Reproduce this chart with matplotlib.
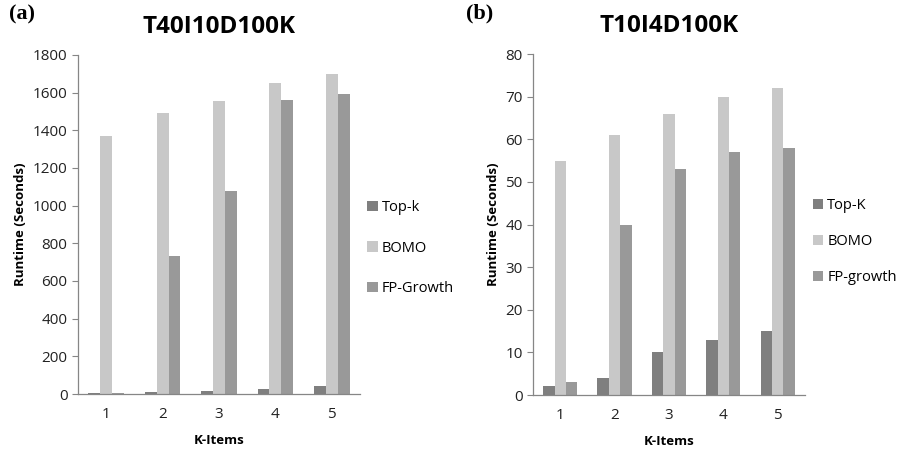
import matplotlib.pyplot as plt
import numpy as np

plt.rcParams['font.family'] = ['Open Sans', 'DejaVu Sans']

# data
k_items = ['1', '2', '3', '4', '5']

topk_a = [5, 10, 18, 25, 45]
bomo_a = [1370, 1490, 1555, 1650, 1700]
fp_a = [5, 730, 1075, 1560, 1590]

topk_b = [2, 4, 10, 13, 15]
bomo_b = [55, 61, 66, 70, 72]
fp_b = [3, 40, 53, 57, 58]

c_topk = '#7f7f7f'
c_bomo = '#c8c8c8'
c_fp = '#999999'

fig = plt.figure(figsize=(9.23, 4.5), dpi=100)
ax1 = fig.add_axes([0.0845, 0.1244, 0.3055, 0.7536])
ax2 = fig.add_axes([0.5775, 0.1222, 0.2945, 0.7578])


def draw(ax, top, bomo, fp, names, ymax, ystep, title, letter, leg_y, lsp):
    x = np.arange(1, len(k_items) + 1)
    w = 0.21
    ax.bar(x - w, top, w, color=c_topk, label=names[0])
    ax.bar(x, bomo, w, color=c_bomo, label=names[1])
    ax.bar(x + w, fp, w, color=c_fp, label=names[2])
    ax.set_xlim(0.5, 5.5)
    ax.set_ylim(0, ymax)
    ax.set_yticks(np.arange(0, ymax + 1, ystep))
    ax.set_xticks(x)
    ax.set_xticklabels(k_items)
    for s in ['top', 'right']:
        ax.spines[s].set_visible(False)
    for s in ['left', 'bottom']:
        ax.spines[s].set_color('#868686')
        ax.spines[s].set_linewidth(0.9)
    ax.tick_params(axis='y', length=4, color='#868686', labelsize=11, labelcolor='#222222')
    ax.tick_params(axis='x', length=0, labelsize=11, pad=9, labelcolor='#222222')
    ax.set_xlabel('K-Items', fontsize=9.5, fontweight='bold', labelpad=9)
    ax.set_ylabel('Runtime (Seconds)', fontsize=9.5, fontweight='bold', labelpad=4)
    ax.set_title(title, fontsize=17.5, fontweight='bold', pad=16)
    ax.text(-0.245, 1.12, letter, transform=ax.transAxes, fontsize=16,
            fontweight='bold', family='Liberation Serif', va='center')
    ax.legend(loc='center left', bbox_to_anchor=(0.98, leg_y), frameon=False,
              fontsize=10.5, handlelength=0.7, handleheight=0.7,
              handletextpad=0.3, labelspacing=lsp)


draw(ax1, topk_a, bomo_a, fp_a, ['Top-k', 'BOMO', 'FP-Growth'],
     1800, 200, 'T40I10D100K', '(a)', 0.43, 1.75)
draw(ax2, topk_b, bomo_b, fp_b, ['Top-K', 'BOMO', 'FP-growth'],
     80, 10, 'T10I4D100K', '(b)', 0.45, 1.45)

fig.savefig('out.png', dpi=100)
